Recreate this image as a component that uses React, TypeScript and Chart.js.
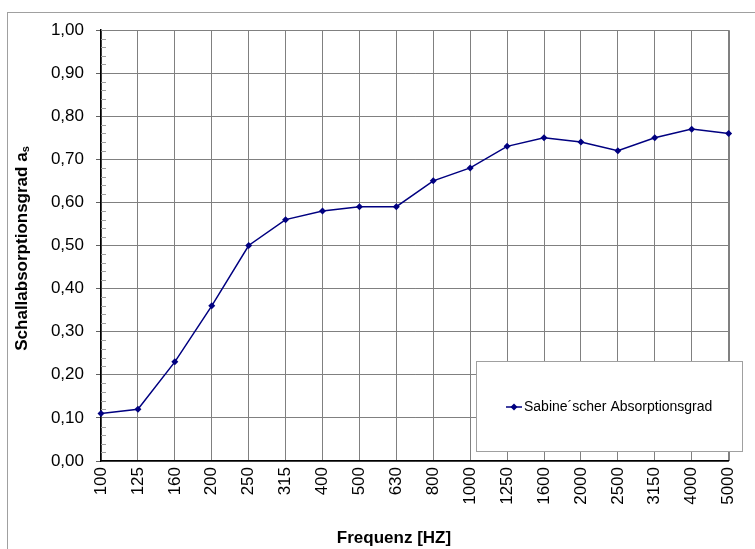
import React, { useEffect, useRef } from "react";
import { Chart, registerables } from "chart.js";

Chart.register(...registerables);

const categories = ["100", "125", "160", "200", "250", "315", "400", "500", "630", "800", "1000", "1250", "1600", "2000", "2500", "3150", "4000", "5000"];
const absorption = [0.11, 0.12, 0.23, 0.36, 0.5, 0.56, 0.58, 0.59, 0.59, 0.65, 0.68, 0.73, 0.75, 0.74, 0.72, 0.75, 0.77, 0.76];
const seriesLabel = "Sabine´scher Absorptionsgrad";
const yTitle = "Schallabsorptionsgrad a";
const yTitleSub = "s";
const xTitle = "Frequenz [HZ]";

const FONT = "'Liberation Sans', Arial, Helvetica, sans-serif";
const LINE = "#000080";

const decorPlugin = {
  id: "decor",
  beforeDraw(chart: any) {
    const ctx = chart.ctx;
    ctx.save();
    ctx.fillStyle = "#ffffff";
    ctx.fillRect(0, 0, chart.width, chart.height);
    ctx.strokeStyle = "#a0a0a0";
    ctx.lineWidth = 1;
    ctx.strokeRect(7.5, 12.5, 800, 600);
    ctx.restore();
  },
  beforeDatasetsDraw(chart: any) {
    const ctx = chart.ctx;
    const a = chart.chartArea;
    const y = chart.scales.y;
    ctx.save();
    ctx.strokeStyle = "#808080";
    ctx.lineWidth = 1;
    ctx.beginPath();
    ctx.moveTo(a.left, Math.round(a.top) + 0.5);
    ctx.lineTo(Math.round(a.right) + 0.5, Math.round(a.top) + 0.5);
    ctx.lineTo(Math.round(a.right) + 0.5, a.bottom);
    ctx.stroke();
    // minor ticks
    ctx.strokeStyle = "#a0a0a0";
    ctx.beginPath();
    for (let i = 1; i < 50; i++) {
      if (i % 5 === 0) continue;
      const py = Math.round(y.getPixelForValue(i * 0.02)) + 0.5;
      ctx.moveTo(a.left, py);
      ctx.lineTo(a.left + 5, py);
    }
    ctx.stroke();
    ctx.restore();
  },
  afterDraw(chart: any) {
    const ctx = chart.ctx;
    ctx.save();
    // Y title with subscript
    ctx.fillStyle = "#000";
    const mainFont = `bold 17px ${FONT}`;
    const subFont = `bold 11px ${FONT}`;
    ctx.font = mainFont;
    const w1 = ctx.measureText(yTitle).width;
    ctx.font = subFont;
    const w2 = ctx.measureText(yTitleSub).width;
    const total = w1 + w2;
    ctx.translate(22, 248.5);
    ctx.rotate(-Math.PI / 2);
    ctx.textBaseline = "middle";
    ctx.textAlign = "left";
    ctx.font = mainFont;
    ctx.fillText(yTitle, -total / 2, 0);
    ctx.font = subFont;
    ctx.fillText(yTitleSub, -total / 2 + w1, 4);
    ctx.restore();

    // X title
    ctx.save();
    ctx.fillStyle = "#000";
    ctx.font = `bold 17px ${FONT}`;
    ctx.textAlign = "center";
    ctx.textBaseline = "middle";
    ctx.fillText(xTitle, 394, 538);
    ctx.restore();

    // Legend box
    ctx.save();
    ctx.fillStyle = "#ffffff";
    ctx.fillRect(476.5, 361.5, 266, 90);
    ctx.strokeStyle = "#a0a0a0";
    ctx.lineWidth = 1;
    ctx.strokeRect(476.5, 361.5, 266, 90);
    const ly = 407;
    ctx.strokeStyle = LINE;
    ctx.lineWidth = 1.5;
    ctx.beginPath();
    ctx.moveTo(506, ly);
    ctx.lineTo(522, ly);
    ctx.stroke();
    ctx.fillStyle = LINE;
    ctx.beginPath();
    ctx.moveTo(514, ly - 3.5);
    ctx.lineTo(517.5, ly);
    ctx.lineTo(514, ly + 3.5);
    ctx.lineTo(510.5, ly);
    ctx.closePath();
    ctx.fill();
    ctx.fillStyle = "#000";
    ctx.font = `14px ${FONT}`;
    ctx.textAlign = "left";
    ctx.textBaseline = "middle";
    ctx.fillText(seriesLabel, 524, ly);
    ctx.restore();
  },
};

export default function App() {
  const ref = useRef<HTMLCanvasElement | null>(null);
  useEffect(() => {
    if (!ref.current) return;
    const chart = new Chart(ref.current, {
      type: "line",
      data: {
        labels: categories,
        datasets: [
          {
            label: seriesLabel,
            data: absorption,
            borderColor: LINE,
            backgroundColor: LINE,
            borderWidth: 1.5,
            pointStyle: "rectRot",
            pointRadius: 3.5,
            pointBorderWidth: 0,
            pointBackgroundColor: LINE,
            tension: 0,
          },
        ],
      },
      options: {
        animation: false,
        responsive: false,
        devicePixelRatio: 1,
        layout: { padding: { top: 30, right: 7, left: 0, bottom: 0 } },
        plugins: {
          legend: { display: false },
          tooltip: { enabled: false },
        },
        scales: {
          x: {
            type: "category",
            offset: false,
            grid: { color: "#808080", drawTicks: false, lineWidth: 1 },
            border: { color: "#000", width: 1.5 },
            ticks: {
              color: "#000",
              font: { family: FONT, size: 17 },
              minRotation: 90,
              maxRotation: 90,
              padding: 6,
              autoSkip: false,
            },
            afterFit: (s: any) => {
              s.height = 88;
            },
          },
          y: {
            min: 0,
            max: 1,
            grid: { color: "#808080", tickLength: 5, tickColor: "#606060", lineWidth: 1 },
            border: { color: "#000", width: 1.5 },
            ticks: {
              stepSize: 0.1,
              color: "#000",
              font: { family: FONT, size: 17 },
              padding: 12,
              callback: (v: any) => Number(v).toFixed(2).replace(".", ","),
            },
            afterFit: (s: any) => {
              s.width = 101;
            },
          },
        },
      },
      plugins: [decorPlugin],
    });
    return () => chart.destroy();
  }, []);
  return (
    <canvas
      ref={ref}
      width={755}
      height={549}
      style={{ position: "absolute", left: 0, top: 0, display: "block" }}
    />
  );
}
